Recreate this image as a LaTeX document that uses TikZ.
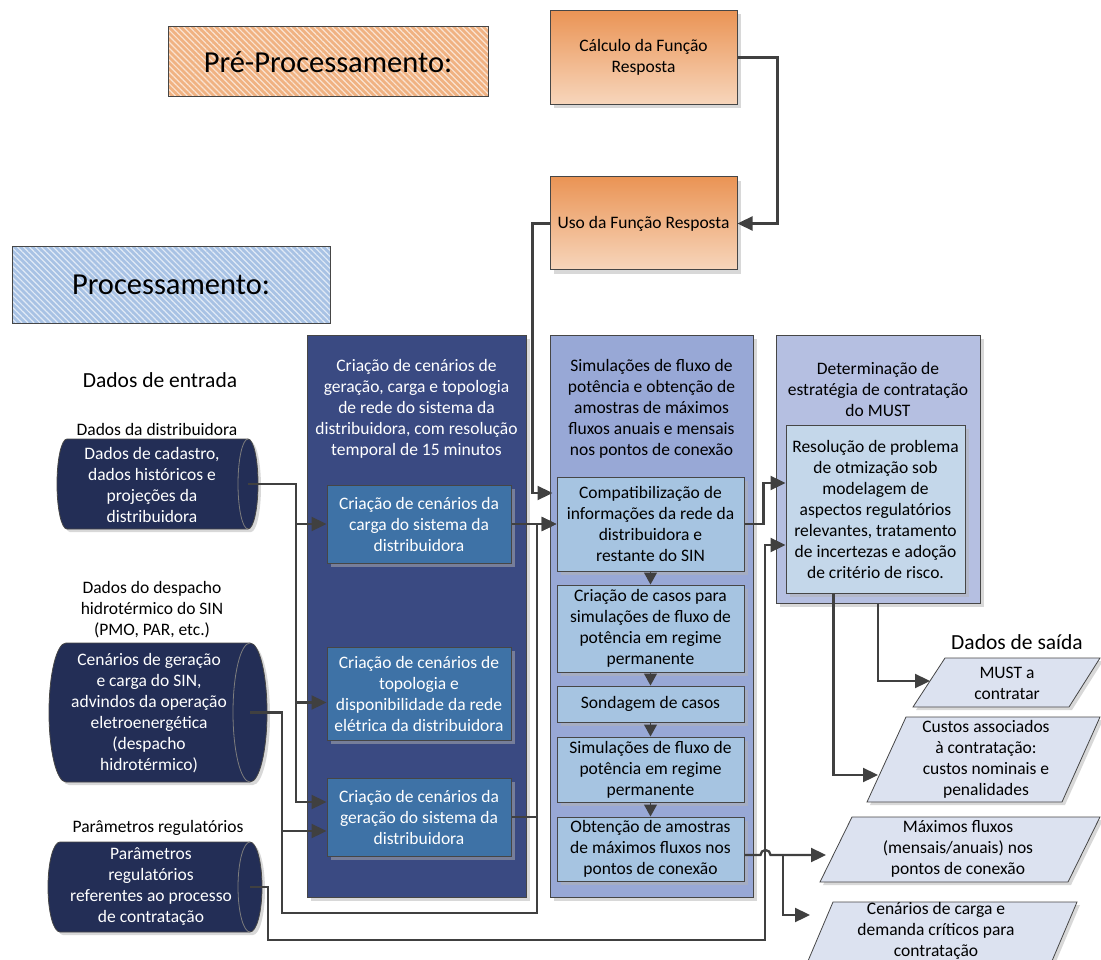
\documentclass[tikz,border=0pt]{standalone}
\usepackage{fontspec}
\setmainfont{Carlito}
\usetikzlibrary{arrows.meta,calc,shadows,patterns.meta}

\definecolor{lineC}{RGB}{64,64,64}
\definecolor{edge}{RGB}{70,70,70}
\definecolor{panelAfill}{RGB}{58,74,130}
\definecolor{boxAfill}{RGB}{62,114,166}
\definecolor{panelBfill}{RGB}{152,168,214}
\definecolor{boxBfill}{RGB}{166,196,225}
\definecolor{panelCfill}{RGB}{181,191,225}
\definecolor{boxCfill}{RGB}{196,215,234}
\definecolor{drumfill}{RGB}{35,46,86}
\definecolor{outfill}{RGB}{220,226,240}
\definecolor{orangeTop}{RGB}{234,148,85}
\definecolor{orangeBot}{RGB}{247,214,188}
\definecolor{hatchOrange}{RGB}{240,178,130}
\definecolor{hatchBlue}{RGB}{168,194,228}

% horizontal data drum: name, left x, right x, top y, bottom y, end radius
\newcommand\drum[6]{%
  \pgfmathsetmacro\dry{(#5-#4)/2}%
  \pgfmathsetmacro\dym{(#5+#4)/2}%
  \fill[black!30,opacity=0.5,shift={(3pt,-3pt)}] (#2,#4)
    arc[start angle=90,end angle=270,x radius=#6pt,y radius=\dry pt] -- (#3,#5)
    arc[start angle=-90,end angle=90,x radius=#6pt,y radius=\dry pt] -- cycle;
  \draw[fill=drumfill,draw=edge,line width=0.8pt] (#2,#4)
    arc[start angle=90,end angle=270,x radius=#6pt,y radius=\dry pt] -- (#3,#5)
    arc[start angle=-90,end angle=90,x radius=#6pt,y radius=\dry pt] -- cycle;
  \draw[edge!70!white,line width=0.8pt] (#3,#4)
    arc[start angle=90,end angle=270,x radius=#6pt,y radius=\dry pt];
  \coordinate (#1) at (#3,\dym);
}

\begin{document}
\begin{tikzpicture}[x=1pt,y=-1pt,
  txt/.style={font=\fontsize{17.5}{21}\selectfont, align=center, inner sep=0pt},
  bigtxt/.style={font=\fontsize{21.5}{26}\selectfont, align=center, inner sep=0pt},
  shade box/.style={drop shadow={shadow xshift=4pt,shadow yshift=-4pt,fill=black!30,opacity=0.5}},
  box/.style={draw=edge, line width=1pt, inner sep=0pt, align=center,
    font=\fontsize{17.5}{21}\selectfont, shade box},
  obox/.style={box, top color=orangeTop, bottom color=orangeBot,
    minimum width=187pt, minimum height=94pt},
  abox/.style={box, fill=boxAfill, text=white, minimum width=184pt},
  bbox/.style={box, fill=boxBfill, minimum width=187pt},
  hatchbox/.style={inner sep=0pt, font=\fontsize{30.5}{36}\selectfont,
    fill=#1,
    postaction={pattern={Lines[angle=-45,distance=4.2pt,line width=1.2pt]}, pattern color=white!65!#1},
    postaction={draw=edge, line width=1pt}},
  para/.style={fill=outfill, draw=edge, line width=0.8pt},
  parashadow/.style={fill=black!30, opacity=0.5, shift={(3pt,-3pt)}},
  wire/.style={draw=lineC, line width=2.3pt},
  conn/.style={wire, -{Triangle[length=15pt,width=14pt]}},
  stepconn/.style={draw=lineC, line width=1pt, -{Triangle[length=12pt,width=13pt]}}]

\useasboundingbox (0,0) rectangle (1101,960);

% section headers
\node[hatchbox=hatchOrange, minimum width=320pt, minimum height=70pt]
  (pre) at (328,62) {Pré-Processamento:};
\node[hatchbox=hatchBlue, minimum width=318pt, minimum height=76pt]
  (proc) at (171,285) {Processamento:};

% response function blocks
\node[obox] (calc) at (643.5,57.5) {Cálculo da Função\\Resposta};
\node[obox, minimum height=93pt] (uso) at (643.5,223.5) {Uso da Função Resposta};

% scenario creation panel
\node[box, fill=panelAfill, minimum width=219pt, minimum height=562pt] (panelA) at (416.5,616) {};
\node[txt, text=white] (titleA) at (416.5,409) {Criação de cenários de\\geração, carga e topologia\\de rede do sistema da\\distribuidora, com resolução\\temporal de 15 minutos};
\node[abox, minimum height=78pt] (A1) at (419,524) {Criação de cenários da\\carga do sistema da\\distribuidora};
\node[abox, minimum height=93pt] (A2) at (419,693.5) {Criação de cenários de\\topologia e\\disponibilidade da rede\\elétrica da distribuidora};
\node[abox, minimum height=78pt] (A3) at (419,817) {Criação de cenários da\\geração do sistema da\\distribuidora};

% power flow panel
\node[box, fill=panelBfill, minimum width=203pt, minimum height=562pt] (panelB) at (651.5,616) {};
\node[txt] (titleB) at (651.5,409) {Simulações de fluxo de\\potência e obtenção de\\amostras de máximos\\fluxos anuais e mensais\\nos pontos de conexão};
\node[bbox, minimum height=94pt] (B1) at (650.5,524) {Compatibilização de\\informações da rede da\\distribuidora e\\restante do SIN};
\node[bbox, minimum height=87pt] (B2) at (650.5,628.5) {Criação de casos para\\simulações de fluxo de\\potência em regime\\permanente};
\node[bbox, minimum height=36pt] (B3) at (650.5,704) {Sondagem de casos};
\node[bbox, minimum height=65pt] (B4) at (650.5,769.5) {Simulações de fluxo de\\potência em regime\\permanente};
\node[bbox, minimum height=64pt] (B5) at (650.5,849) {Obtenção de amostras\\de máximos fluxos nos\\pontos de conexão};

% contracting strategy panel
\node[box, fill=panelCfill, minimum width=204pt, minimum height=268pt] (panelC) at (878,469) {};
\node[txt] (titleC) at (878,389) {Determinação de\\estratégia de contratação\\do MUST};
\node[box, fill=boxCfill, minimum width=179pt, minimum height=168pt] (C1) at (875.5,509) {Resolução de problema\\de otmização sob\\modelagem de\\aspectos regulatórios\\relevantes, tratamento\\de incertezas e adoção\\de critério de risco.};

% input data
\node[bigtxt] (inlabel) at (160,380) {Dados de entrada};
\node[txt] (l1) at (157,429) {Dados da distribuidora};
\drum{d1}{67}{248}{439}{529}{10}
\node[txt, text=white] (d1text) at (152,484.5) {Dados de cadastro,\\dados históricos e\\projeções da\\distribuidora};
\node[txt] (l2) at (152,610) {Dados do despacho\\hidrotérmico do SIN\\(PMO, PAR, etc.)};
\drum{d2}{66}{250}{643}{782}{17}
\node[txt, text=white] (d2text) at (149,713) {Cenários de geração\\e carga do SIN,\\advindos da operação\\eletroenergética\\(despacho\\hidrotérmico)};
\node[txt] (l3) at (158,828) {Parâmetros regulatórios};
\drum{d3}{60}{250}{842}{932}{12}
\node[txt, text=white] (d3text) at (151,886.5) {Parâmetros\\regulatórios\\referentes ao processo\\de contratação};

% output data
\node[bigtxt] (outlabel) at (1017,642) {Dados de saída};
\fill[parashadow] (945,658) -- (1100,658) -- (1069,707) -- (913,707) -- cycle;
\draw[para] (945,658) -- (1100,658) -- (1069,707) -- (913,707) -- cycle;
\node[txt] (must) at (1007,683.5) {MUST a\\contratar};
\fill[parashadow] (906,717) -- (1100,717) -- (1062,802) -- (867,802) -- cycle;
\draw[para] (906,717) -- (1100,717) -- (1062,802) -- (867,802) -- cycle;
\node[txt] (custos) at (986,759.5) {Custos associados\\à contratação:\\custos nominais e\\penalidades};
\fill[parashadow] (852,817) -- (1100,817) -- (1068,882) -- (820,882) -- cycle;
\draw[para] (852,817) -- (1100,817) -- (1068,882) -- (820,882) -- cycle;
\node[txt] (maximos) at (958,849) {Máximos fluxos\\(mensais/anuais) nos\\pontos de conexão};
\fill[parashadow] (833,902) -- (1077,902) -- (1049,968) -- (805,968) -- cycle;
\draw[para] (833,902) -- (1077,902) -- (1049,968) -- (805,968) -- cycle;
\node[txt] (cenarios) at (936,931) {Cenários de carga e\\demanda críticos para\\contratação};

% connector ends and junctions
\coordinate (mustin) at (930,681);
\coordinate (custosin) at (878,775);
\coordinate (maxin) at (826,855);
\coordinate (cenin) at (810,915);
\coordinate (busB) at (537,913);
\coordinate (busC) at (765,940);
\coordinate (fork) at (783,855);

% connectors
\draw[conn] (calc.east) -- ++(40,0) |- (uso.east);
\draw[conn] (uso.west) -- ++(-17,0) |- ($(B1.west)+(-4,-31)$);
\draw[conn] (d1) -- ++(48,0) |- (A1.west);
\draw[conn] (d1) -- ++(48,0) |- ($(A2.west)+(0,9)$);
\draw[conn] (d1) -- ++(48,0) |- ($(A3.west)+(0,-15)$);
\draw[conn] (d2) -- ++(32,0) |- ($(A3.west)+(0,14)$);
\draw[conn] (d2) -- ++(32,0) |- (busB) |- (B1.west);
\draw[wire] (A3.east) -| (busB);
\draw[conn] (A1.east) -- (B1.west);
\draw[stepconn] (B1.south) -- (B2.north);
\draw[stepconn] (B2.south) -- (B3.north);
\draw[stepconn] (B3.south) -- (B4.north);
\draw[stepconn] (B4.south) -- (B5.north);
\draw[conn] (B1.east) -- ++(19,0) |- ($(C1.west)+(0,-26)$);
\draw[conn] (d3) -- ++(18,0) |- (busC) |- ($(C1.west)+(0,36)$);
\draw[conn] (panelC.south) |- (mustin);
\draw[conn] ($(C1.south)+(-42,0)$) |- (custosin);
\draw[conn] ($(B5.east)+(0,6)$) -- ++(16,0) arc[start angle=180,end angle=0,radius=5pt] -- (maxin);
\draw[conn] (fork) |- (cenin);
\end{tikzpicture}
\end{document}
